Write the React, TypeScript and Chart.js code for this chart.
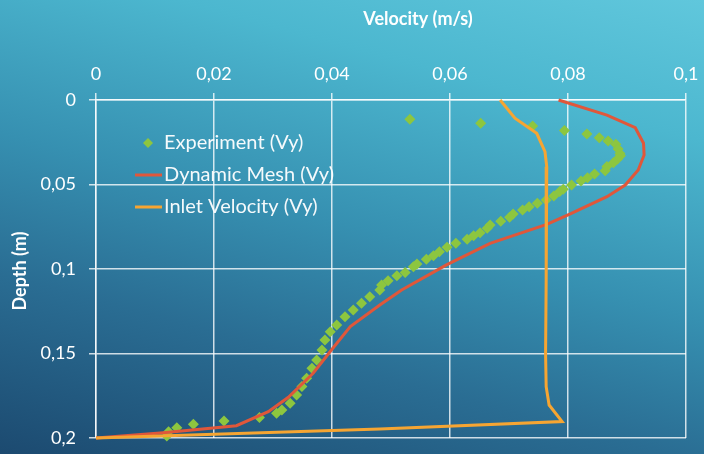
import React, { useEffect, useRef } from "react";
import { Chart, registerables } from "chart.js";

Chart.register(...registerables);

// ---- Data (velocity in m/s, depth in m) ----
const expVelocity = [
  0.0532, 0.0652, 0.0740, 0.0794, 0.0832, 0.0853, 0.0868, 0.0881, 0.0885, 0.0888,
  0.0889, 0.0884, 0.0877, 0.0866, 0.0863, 0.0845, 0.0833, 0.0822, 0.0806, 0.0792,
  0.0786, 0.0776, 0.0763, 0.0748, 0.0734, 0.0723, 0.0707, 0.0701, 0.0686, 0.0668,
  0.0663, 0.0651, 0.0640, 0.0629, 0.0610, 0.0595, 0.0582, 0.0572, 0.0560, 0.0544,
  0.0538, 0.0524, 0.0510, 0.0495, 0.0484, 0.0481, 0.0464, 0.0450, 0.0436, 0.0422,
  0.0408, 0.0397, 0.0388, 0.0383, 0.0374, 0.0366, 0.0357, 0.0349, 0.0340, 0.0329,
  0.0315, 0.0306, 0.0277, 0.0217, 0.0165, 0.0137, 0.0123, 0.0120,
];
const expDepth = [
  0.0114, 0.0138, 0.0154, 0.0181, 0.0201, 0.0223, 0.0243, 0.0262, 0.0290, 0.0316,
  0.0330, 0.0349, 0.0371, 0.0394, 0.0418, 0.0438, 0.0460, 0.0479, 0.0503, 0.0528,
  0.0542, 0.0568, 0.0592, 0.0611, 0.0631, 0.0651, 0.0675, 0.0694, 0.0718, 0.0740,
  0.0759, 0.0785, 0.0803, 0.0824, 0.0848, 0.0872, 0.0898, 0.0921, 0.0943, 0.0970,
  0.0986, 0.1020, 0.1040, 0.1069, 0.1095, 0.1124, 0.1164, 0.1203, 0.1243, 0.1282,
  0.1331, 0.1371, 0.1420, 0.1479, 0.1538, 0.1588, 0.1647, 0.1696, 0.1746, 0.1795,
  0.1834, 0.1854, 0.1878, 0.1899, 0.1919, 0.1939, 0.1963, 0.1988,
];

const meshVelocity = [
  0.0784, 0.0866, 0.0914, 0.0928, 0.0929, 0.0919, 0.0897, 0.0866, 0.0803, 0.0764,
  0.0668, 0.0594, 0.0518, 0.0481, 0.0431, 0.0399, 0.0368, 0.0326, 0.0292, 0.0238,
  0.0114, 0.0,
];
const meshDepth = [
  0.0, 0.0089, 0.0164, 0.0256, 0.0325, 0.0414, 0.0503, 0.0572, 0.0675, 0.0736,
  0.0848, 0.0976, 0.1124, 0.1213, 0.1341, 0.1479, 0.1617, 0.1759, 0.1844, 0.1927,
  0.1969, 0.2,
];

const inletVelocity = [
  0.0685, 0.0710, 0.0747, 0.0761, 0.0764, 0.0763, 0.0762, 0.0763, 0.0768, 0.0790,
  0.0481, 0.0,
];
const inletDepth = [
  0.0, 0.0108, 0.0197, 0.0306, 0.0395, 0.1065, 0.1500, 0.1696, 0.1805, 0.1903,
  0.1947, 0.2,
];

const seriesNames = ["Experiment (Vy)", "Dynamic Mesh (Vy)", "Inlet Velocity (Vy)"];
const seriesColors = ["#8dc63f", "#e0573a", "#f6a532"];

const xTickValues = [0, 0.02, 0.04, 0.06, 0.08, 0.1];
const xTickLabels = ["0", "0,02", "0,04", "0,06", "0,08", "0,1"];
const yTickValues = [0, 0.05, 0.1, 0.15, 0.2];
const yTickLabels = ["0", "0,05", "0,1", "0,15", "0,2"];
const xTitle = "Velocity (m/s)";
const yTitle = "Depth (m)";

const FONT = "Lato, 'Open Sans', 'DejaVu Sans', sans-serif";
const GRID = "rgba(255,255,255,0.78)";

const pts = (xs: number[], ys: number[]) => xs.map((x, i) => ({ x, y: ys[i] }));

const labelFor = (values: number[], labels: string[]) => (v: any) => {
  const n = Number(v);
  let best = 0;
  values.forEach((t, i) => {
    if (Math.abs(t - n) < Math.abs(values[best] - n)) best = i;
  });
  return labels[best];
};

const overlayPlugin = {
  id: "overlay",
  afterDraw(chart: any) {
    const ctx = chart.ctx;
    ctx.save();
    // axis titles
    ctx.fillStyle = "#ffffff";
    ctx.font = `bold 18px ${FONT}`;
    ctx.textAlign = "center";
    ctx.textBaseline = "middle";
    ctx.fillText(xTitle, 418, 19);
    ctx.save();
    ctx.translate(20, 271);
    ctx.rotate(-Math.PI / 2);
    ctx.fillText(yTitle, 0, 0);
    ctx.restore();

    // legend
    const rows = [143, 175, 207];
    ctx.font = `20px ${FONT}`;
    ctx.textAlign = "left";
    chart.data.datasets.forEach((ds: any, i: number) => {
      const y = rows[i];
      if (i === 0) {
        ctx.fillStyle = ds.backgroundColor;
        ctx.beginPath();
        ctx.moveTo(148, y - 5);
        ctx.lineTo(153, y);
        ctx.lineTo(148, y + 5);
        ctx.lineTo(143, y);
        ctx.closePath();
        ctx.fill();
      } else {
        ctx.strokeStyle = ds.borderColor;
        ctx.lineWidth = 3;
        ctx.beginPath();
        ctx.moveTo(135, y);
        ctx.lineTo(162, y);
        ctx.stroke();
      }
      ctx.fillStyle = "rgba(255,255,255,0.95)";
      ctx.fillText(ds.label, 164, y);
    });
    ctx.restore();
  },
};

export default function App() {
  const canvasRef = useRef<HTMLCanvasElement | null>(null);

  useEffect(() => {
    document.body.style.margin = "0";
    const canvas = canvasRef.current;
    if (!canvas) return;
    const chart = new Chart(canvas, {
      type: "scatter",
      data: {
        datasets: [
          {
            label: seriesNames[0],
            data: pts(expVelocity, expDepth),
            backgroundColor: seriesColors[0],
            borderColor: seriesColors[0],
            pointStyle: "rectRot",
            pointRadius: 5.5,
            pointBorderWidth: 0,
            showLine: false,
            order: 3,
          },
          {
            label: seriesNames[1],
            data: pts(meshVelocity, meshDepth),
            borderColor: seriesColors[1],
            backgroundColor: seriesColors[1],
            borderWidth: 3,
            pointRadius: 0,
            showLine: true,
            tension: 0,
            order: 2,
          },
          {
            label: seriesNames[2],
            data: pts(inletVelocity, inletDepth),
            borderColor: seriesColors[2],
            backgroundColor: seriesColors[2],
            borderWidth: 3,
            pointRadius: 0,
            showLine: true,
            tension: 0,
            order: 1,
          },
        ],
      },
      options: {
        animation: false,
        responsive: false,
        maintainAspectRatio: false,
        clip: false as any,
        layout: { padding: { top: 0, left: 0, right: 18, bottom: 16 } },
        plugins: {
          legend: { display: false },
          tooltip: { enabled: false },
          title: { display: false },
        },
        scales: {
          x: {
            type: "linear",
            position: "top",
            min: 0,
            max: 0.1,
            afterFit: (s: any) => {
              s.height = 100;
              s.paddingLeft = 0;
              s.paddingRight = 0;
            },
            ticks: {
              stepSize: 0.02,
              color: "#ffffff",
              font: { family: FONT, size: 18 },
              padding: 8,
              callback: labelFor(xTickValues, xTickLabels),
            },
            grid: {
              color: GRID,
              lineWidth: 1.5,
              tickLength: 7,
            },
            border: { display: true, color: GRID, width: 1.5 },
          },
          y: {
            type: "linear",
            reverse: true,
            min: 0,
            max: 0.2,
            afterFit: (s: any) => {
              s.width = 96;
              s.paddingTop = 0;
              s.paddingBottom = 0;
            },
            ticks: {
              stepSize: 0.05,
              color: "#ffffff",
              font: { family: FONT, size: 18 },
              padding: 13,
              callback: labelFor(yTickValues, yTickLabels),
            },
            grid: {
              color: GRID,
              lineWidth: 1.5,
              tickLength: 7,
            },
            border: { display: true, color: GRID, width: 1.5 },
          },
        },
      },
      plugins: [overlayPlugin],
    });
    return () => chart.destroy();
  }, []);

  return (
    <div
      style={{
        width: 704,
        height: 454,
        background:
          "linear-gradient(195deg, #60c7dc 0%, #4cb7cf 22%, #3690b1 50%, #2a6d93 72%, #1c4a70 100%)",
      }}
    >
      <canvas ref={canvasRef} width={704} height={454} style={{ display: "block" }} />
    </div>
  );
}
